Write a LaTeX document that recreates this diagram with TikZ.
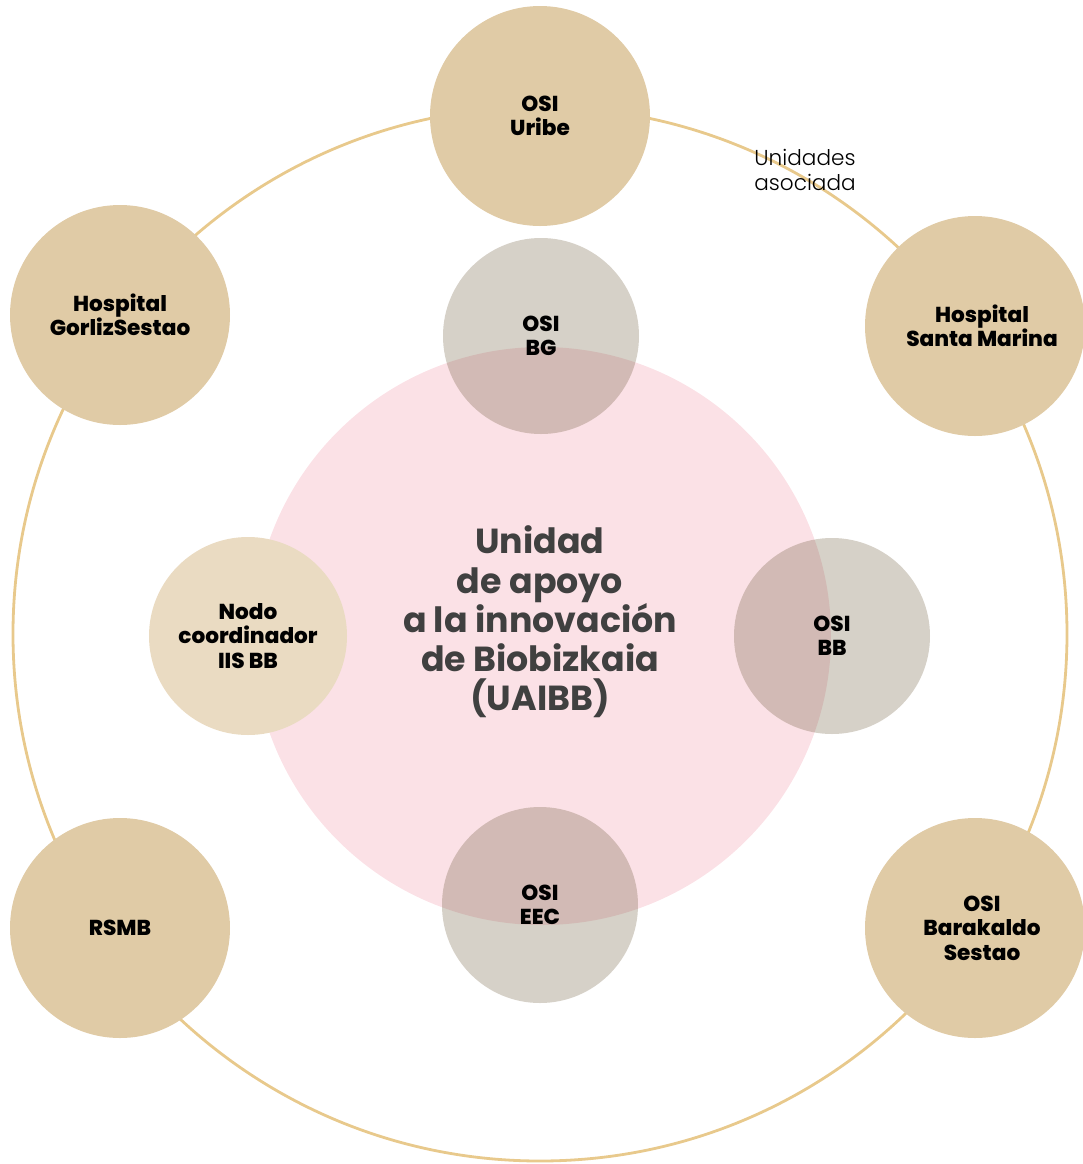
\documentclass[tikz,border=0pt]{standalone}
\usepackage{fontspec}
\setmainfont{Poppins}
\newfontfamily\unitfont{Poppins ExtraBold}
\newfontfamily\notefont{Poppins Light}
\definecolor{orbit}{RGB}{232,201,140}
\definecolor{assoc}{RGB}{224,203,166}
\definecolor{coord}{RGB}{234,219,194}
\definecolor{osi}{RGB}{91,71,35}
\definecolor{uaibb}{RGB}{251,225,230}
\definecolor{uaibbtext}{RGB}{64,64,64}

\begin{document}
\begin{tikzpicture}[x=0.5pt, y=-0.5pt,
    unit/.style={circle, inner sep=0pt, align=center, font=\unitfont\fontsize{10.8}{12.2}\selectfont},
    assoc unit/.style={unit, fill=assoc, minimum size=110pt},
    osi unit/.style={unit, fill=osi, fill opacity=0.25, text opacity=1, minimum size=98pt},
    coord unit/.style={unit, fill=coord, minimum size=99pt},
    core/.style={circle, fill=uaibb, minimum size=289pt, inner sep=0pt}
  ]
  \useasboundingbox (0,0) rectangle (1083,1164);

  % ring of associated units
  \coordinate (c) at (540,634);
  \draw [orbit, line width=1.4pt] (c) circle [radius=263.5pt];

  \node [assoc unit] (uribe) at (540,116) {OSI\\Uribe};
  \node [assoc unit] (gorliz) at (120,315) {Hospital\\GorlizSestao};
  \node [assoc unit] (marina) at (975,326) {\hspace*{7pt}Hospital\\\hspace*{7pt}Santa Marina};
  \node [assoc unit] (rsmb) at (120,928) {RSMB};
  \node [assoc unit] (barakaldo) at (975,928) {\hspace*{7pt}OSI\\\hspace*{7pt}Barakaldo\\\hspace*{7pt}Sestao};

  \node [font=\notefont\fontsize{10.8}{12.5}\selectfont, align=center, inner sep=0pt] (asoc) at (805,170) {Unidades\\asociada};

  % core
  \node [core] (uaibb) at (542,636) {};
  \node [coord unit] (iisbb) at (248,636) {Nodo\\coordinador\\IIS BB};

  \node [osi unit] (bg) at (541,336) {OSI\\BG};
  \node [osi unit] (bb) at (832,636) {OSI\\BB};
  \node [osi unit] (eec) at (540,905) {OSI\\EEC};

  \node [align=center, text=uaibbtext, font=\bfseries\fontsize{17.4}{19.6}\selectfont] (label) at (540,622)
    {Unidad\\de apoyo\\a la innovación\\de Biobizkaia\\(UAIBB)};
\end{tikzpicture}
\end{document}
